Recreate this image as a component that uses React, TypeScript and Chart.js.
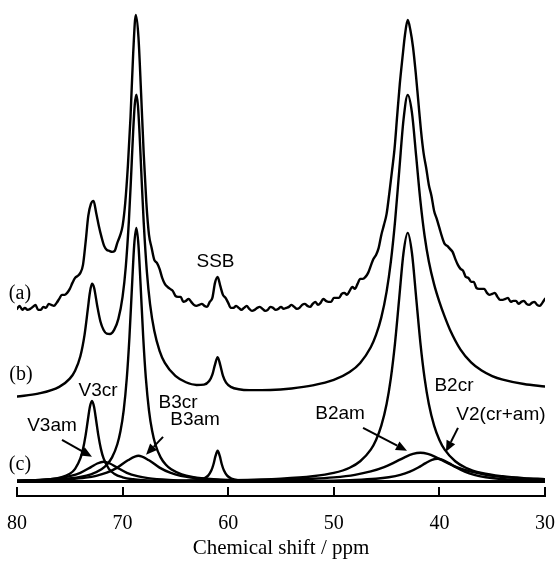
import React, { useEffect, useRef } from "react";
import { Chart, registerables } from "chart.js";

Chart.register(...registerables);

// ---------- axis ----------
const xTickValues = [80, 70, 60, 50, 40, 30];

// ---------- (a) experimental spectrum ----------
const expPpm = [
  80, 79.75, 79.5, 79.25, 79, 78.75, 78.5, 78.25, 78, 77.75,
  77.5, 77.25, 77, 76.75, 76.5, 76.25, 76, 75.75, 75.5, 75.25,
  75, 74.75, 74.5, 74.25, 74, 73.75, 73.5, 73.25, 73, 72.75,
  72.5, 72.25, 72, 71.75, 71.5, 71.25, 71, 70.75, 70.5, 70.25,
  70, 69.75, 69.5, 69.25, 69, 68.75, 68.5, 68.25, 68, 67.75,
  67.5, 67.25, 67, 66.75, 66.5, 66.25, 66, 65.75, 65.5, 65.25,
  65, 64.75, 64.5, 64.25, 64, 63.75, 63.5, 63.25, 63, 62.75,
  62.5, 62.25, 62, 61.75, 61.5, 61.25, 61, 60.75, 60.5, 60.25,
  60, 59.75, 59.5, 59.25, 59, 58.75, 58.5, 58.25, 58, 57.75,
  57.5, 57.25, 57, 56.75, 56.5, 56.25, 56, 55.75, 55.5, 55.25,
  55, 54.75, 54.5, 54.25, 54, 53.75, 53.5, 53.25, 53, 52.75,
  52.5, 52.25, 52, 51.75, 51.5, 51.25, 51, 50.75, 50.5, 50.25,
  50, 49.75, 49.5, 49.25, 49, 48.75, 48.5, 48.25, 48, 47.75,
  47.5, 47.25, 47, 46.75, 46.5, 46.25, 46, 45.75, 45.5, 45.25,
  45, 44.75, 44.5, 44.25, 44, 43.75, 43.5, 43.25, 43, 42.75,
  42.5, 42.25, 42, 41.75, 41.5, 41.25, 41, 40.75, 40.5, 40.25,
  40, 39.75, 39.5, 39.25, 39, 38.75, 38.5, 38.25, 38, 37.75,
  37.5, 37.25, 37, 36.75, 36.5, 36.25, 36, 35.75, 35.5, 35.25,
  35, 34.75, 34.5, 34.25, 34, 33.75, 33.5, 33.25, 33, 32.75,
  32.5, 32.25, 32, 31.75, 31.5, 31.25, 31, 30.75, 30.5, 30.25,
  30,
];
const expIntensity = [
  8, 11, 7, 9, 7, 8, 10, 12, 7, 7,
  10, 9, 13, 12, 11, 14, 18, 22, 22, 24,
  28, 34, 39, 41, 44, 52, 75, 101, 113, 116,
  104, 91, 80, 71, 67, 66, 65, 66, 74, 81,
  91, 114, 151, 200, 263, 302, 280, 224, 163, 114,
  82, 69, 57, 54, 48, 39, 33, 30, 28, 26,
  21, 20, 20, 15, 16, 18, 15, 12, 11, 12,
  13, 11, 10, 15, 19, 34, 40, 31, 22, 19,
  14, 9, 9, 11, 9, 7, 9, 11, 8, 6,
  7, 9, 10, 8, 6, 7, 10, 9, 7, 8,
  10, 8, 9, 10, 12, 10, 8, 9, 12, 13,
  11, 10, 13, 15, 12, 14, 18, 16, 15, 15,
  19, 19, 19, 23, 24, 22, 26, 30, 28, 33,
  38, 38, 40, 44, 51, 58, 62, 69, 82, 92,
  103, 123, 145, 168, 201, 233, 259, 283, 297, 287,
  270, 245, 216, 187, 164, 149, 132, 121, 106, 98,
  89, 80, 73, 71, 68, 65, 58, 52, 48, 46,
  40, 39, 35, 35, 29, 28, 28, 28, 24, 22,
  23, 24, 20, 17, 17, 18, 19, 15, 16, 16,
  13, 15, 16, 13, 12, 14, 15, 12, 11, 14,
  18,
];

// ---------- (b) fitted spectrum ----------
const fitPpm = [
  80, 78, 76, 75, 74.5, 74, 73.6, 73.3, 73.1, 72.9,
  72.7, 72.4, 72.1, 71.8, 71.5, 71.2, 70.8, 70.4, 70.0, 69.7,
  69.4, 69.2, 69.0, 68.85, 68.7, 68.55, 68.4, 68.2, 68.0, 67.7,
  67.4, 67.0, 66.5, 66.0, 65.0, 64.0, 63.0, 62.3, 61.8, 61.5,
  61.25, 61.0, 60.75, 60.5, 60.2, 59.7, 59.0, 58.0, 56.0, 54.0,
  52.0, 50.0, 48.5, 47.5, 46.5, 46.0, 45.5, 45.0, 44.6, 44.2,
  43.8, 43.4, 43.0, 42.6, 42.2, 41.8, 41.4, 41.0, 40.5, 40.0,
  39.5, 39.0, 38.0, 37.0, 36.0, 35.0, 34.0, 32.0, 30.0,
];
const fitIntensity = [
  1.3, 4.2, 11.0, 19.2, 27.2, 41.6, 63.3, 88.2, 105.1, 114.1,
  110.2, 91.9, 76.4, 67.9, 64.2, 63.8, 68.0, 79.0, 101.3, 130.9,
  178.1, 220.7, 266.5, 293.1, 303.3, 292.7, 265.5, 219.0, 175.4, 126.1,
  93.8, 67.1, 47.1, 35.0, 21.9, 15.6, 12.9, 13.2, 16.8, 23.2,
  33.3, 40.7, 32.8, 22.3, 15.2, 10.7, 8.6, 7.7, 7.9, 9.4,
  12.4, 17.9, 25.8, 34.9, 50.6, 62.9, 80.5, 106.3, 136.0, 176.6,
  227.6, 278.1, 303.0, 285.4, 241.7, 197.0, 161.9, 136.4, 113.5, 96.0,
  81.2, 68.2, 48.3, 35.5, 27.3, 21.8, 18.2, 13.8, 11.4,
];

// ---------- (c) deconvoluted components ----------
const v3crPpm = [80, 77, 75, 74.5, 74, 73.75, 73.5, 73.3, 73.1, 72.9, 72.7, 72.5, 72.3, 72.05, 71.8, 71.3, 70.8, 70, 69, 68, 66, 62, 55, 45, 30];
const v3crIntensity = [0.8, 2.3, 8.1, 13.0, 23.4, 32.7, 46.7, 61.1, 74.9, 81, 74.9, 61.1, 46.7, 32.7, 23.4, 13.0, 8.1, 4.5, 2.5, 1.6, 0.8, 0.3, 0.1, 0.05, 0];

const v3amPpm = [80, 78, 76, 75, 74, 73, 72.4, 71.8, 71.2, 70.6, 69.6, 68.6, 67.6, 65.6, 63.6, 60, 55, 50, 40, 30];
const v3amIntensity = [1.1, 1.9, 3.7, 5.6, 9.0, 14.7, 18.3, 20, 18.3, 14.7, 9.0, 5.6, 3.7, 1.9, 1.1, 0.56, 0.28, 0.17, 0.08, 0.05];

const b3crPpm = [80, 76, 74, 73, 72, 71.5, 71, 70.5, 70.2, 69.9, 69.6, 69.35, 69.1, 68.9, 68.7, 68.5, 68.3, 68.05, 67.8, 67.5, 67.2, 66.9, 66.4, 65.9, 65.4, 64.4, 63.4, 61.4, 57.4, 50, 40, 30];
const b3crIntensity = [1.1, 2.7, 5.0, 7.5, 12.5, 17.0, 24.4, 37.6, 50.8, 71.3, 104.1, 145.1, 197.8, 237.1, 254, 237.1, 197.8, 145.1, 104.1, 71.3, 50.8, 37.6, 24.4, 17.0, 12.5, 7.5, 5.0, 2.7, 1.1, 0.4, 0.17, 0.1];

const b3amPpm = [80, 77, 75, 73.5, 72.5, 71.5, 70.5, 69.5, 68.5, 67.5, 66.5, 65.5, 64.5, 62, 60, 57, 50, 40, 30];
const b3amIntensity = [0.9, 1.6, 2.7, 4.2, 6.0, 9.1, 14.2, 21.5, 26, 21.5, 14.2, 9.1, 6.0, 2.7, 1.6, 0.9, 0.36, 0.15, 0.07];

const ssbPpm = [80, 66, 64, 63, 62.3, 61.9, 61.6, 61.4, 61.2, 61, 60.8, 60.6, 60.4, 60.1, 59.7, 59, 58, 56, 50, 30];
const ssbIntensity = [0.02, 0.25, 0.68, 1.5, 3.3, 6.2, 11.2, 17.3, 25.9, 31, 25.9, 17.3, 11.2, 6.2, 3.3, 1.5, 0.68, 0.25, 0.05, 0.01];

const b2crPpm = [80, 70, 60, 55, 52, 50, 48.5, 47.5, 46.5, 46, 45.5, 45, 44.6, 44.2, 43.8, 43.4, 43, 42.6, 42.2, 41.8, 41.4, 41, 40.5, 40, 39.5, 38.5, 37.5, 36, 34, 32, 30];
const b2crIntensity = [0.33, 0.62, 1.56, 3.1, 5.5, 8.9, 14.1, 20.6, 32.2, 41.9, 56.2, 77.9, 103.5, 139.1, 184.3, 228.9, 249, 228.9, 184.3, 139.1, 103.5, 77.9, 56.2, 41.9, 32.2, 20.6, 14.1, 8.9, 5.5, 3.7, 2.7];

const b2amPpm = [80, 70, 60, 55, 52, 50, 48, 46.5, 45.3, 44.3, 43.3, 42.5, 41.8, 41.1, 40.3, 39.3, 38.3, 37.1, 35.6, 33.6, 31.6, 30];
const b2amIntensity = [0.24, 0.44, 1.04, 1.9, 3.06, 4.47, 7.0, 10.4, 14.5, 19.2, 24.5, 27.9, 29, 27.9, 24.5, 19.2, 14.5, 10.4, 7.0, 4.47, 3.06, 2.34];

const v2Ppm = [80, 60, 55, 50, 48, 46, 44.8, 43.7, 42.8, 42, 41.3, 40.7, 40.2, 39.7, 39.1, 38.4, 37.6, 36.7, 35.6, 34.4, 32.4, 30];
const v2Intensity = [0.08, 0.31, 0.54, 1.2, 1.84, 3.1, 4.6, 6.9, 10.1, 14.3, 18.7, 22.0, 23, 22.0, 18.7, 14.3, 10.1, 6.9, 4.6, 3.1, 1.84, 1.11];

// vertical stacking of the three traces
const traceOffsets = { a: 165, b: 84, c: 0 };

const SERIF = '"Liberation Serif", "Times New Roman", Times, serif';
const SANS = '"Liberation Sans", Arial, Helvetica, sans-serif';

// text annotations (positions in ppm / intensity units)
const textLabels = [
  { text: "(a)", ppm: 79.72, value: 188, family: SERIF, size: 20 },
  { text: "(b)", ppm: 79.62, value: 107, family: SERIF, size: 20 },
  { text: "(c)", ppm: 79.72, value: 17, family: SERIF, size: 20 },
  { text: "SSB", ppm: 61.2, value: 220, family: SANS, size: 19 },
  { text: "V3cr", ppm: 72.33, value: 91, family: SANS, size: 19 },
  { text: "V3am", ppm: 76.69, value: 56, family: SANS, size: 19 },
  { text: "B3cr", ppm: 64.75, value: 79, family: SANS, size: 19 },
  { text: "B3am", ppm: 63.14, value: 62, family: SANS, size: 19 },
  { text: "B2am", ppm: 49.41, value: 68, family: SANS, size: 19 },
  { text: "B2cr", ppm: 38.62, value: 96, family: SANS, size: 19 },
  { text: "V2(cr+am)", ppm: 34.17, value: 67, family: SANS, size: 19 },
];

const arrows = [
  { fromPpm: 75.74, fromValue: 42, toPpm: 72.9, toValue: 25 },
  { fromPpm: 66.17, fromValue: 45, toPpm: 67.78, toValue: 27 },
  { fromPpm: 47.23, fromValue: 54, toPpm: 43.07, toValue: 31 },
  { fromPpm: 38.24, fromValue: 54, toPpm: 39.38, toValue: 30 },
];

function drawArrow(ctx: CanvasRenderingContext2D, x1: number, y1: number, x2: number, y2: number) {
  const ang = Math.atan2(y2 - y1, x2 - x1);
  const headLen = 11;
  const headW = 4.8;
  const bx = x2 - headLen * Math.cos(ang);
  const by = y2 - headLen * Math.sin(ang);
  ctx.beginPath();
  ctx.moveTo(x1, y1);
  ctx.lineTo(bx, by);
  ctx.stroke();
  ctx.beginPath();
  ctx.moveTo(x2, y2);
  ctx.lineTo(bx + headW * Math.sin(ang), by - headW * Math.cos(ang));
  ctx.lineTo(bx - headW * Math.sin(ang), by + headW * Math.cos(ang));
  ctx.closePath();
  ctx.fill();
}

const decorPlugin = {
  id: "nmrDecor",
  afterDatasetsDraw(chart: any) {
    const { ctx, chartArea } = chart;
    const xs = chart.scales.x;
    const ys = chart.scales.y;
    ctx.save();
    ctx.strokeStyle = "#000";
    ctx.fillStyle = "#000";
    // axis bracket: bottom line with ticks pointing up
    ctx.lineWidth = 2;
    const yb = Math.round(chartArea.bottom) - 1;
    const xl = xs.getPixelForValue(80);
    const xr = xs.getPixelForValue(30);
    ctx.beginPath();
    ctx.moveTo(xl - 1, yb);
    ctx.lineTo(xr + 1, yb);
    for (const t of xTickValues) {
      const px = Math.round(xs.getPixelForValue(t));
      ctx.moveTo(px, yb);
      ctx.lineTo(px, yb - 9);
    }
    ctx.stroke();

    // labels
    ctx.textAlign = "center";
    ctx.textBaseline = "middle";
    for (const l of textLabels) {
      ctx.font = `${l.size}px ${l.family}`;
      ctx.fillText(l.text, xs.getPixelForValue(l.ppm), ys.getPixelForValue(l.value));
    }

    // arrows
    ctx.lineWidth = 2;
    for (const a of arrows) {
      drawArrow(
        ctx,
        xs.getPixelForValue(a.fromPpm),
        ys.getPixelForValue(a.fromValue),
        xs.getPixelForValue(a.toPpm),
        ys.getPixelForValue(a.toValue)
      );
    }
    ctx.restore();
  },
};

function toPoints(ppm: number[], vals: number[], offset: number) {
  return ppm.map((p, i) => ({ x: p, y: vals[i] + offset }));
}

const componentSeries = [
  { label: "V3cr", ppm: v3crPpm, vals: v3crIntensity },
  { label: "V3am", ppm: v3amPpm, vals: v3amIntensity },
  { label: "B3cr", ppm: b3crPpm, vals: b3crIntensity },
  { label: "B3am", ppm: b3amPpm, vals: b3amIntensity },
  { label: "SSB", ppm: ssbPpm, vals: ssbIntensity },
  { label: "B2cr", ppm: b2crPpm, vals: b2crIntensity },
  { label: "B2am", ppm: b2amPpm, vals: b2amIntensity },
  { label: "V2(cr+am)", ppm: v2Ppm, vals: v2Intensity },
];

export default function App() {
  const ref = useRef<HTMLCanvasElement>(null);

  useEffect(() => {
    if (!ref.current) return;
    const lineStyle = {
      borderColor: "#000",
      borderWidth: 2.4,
      pointRadius: 0,
      fill: false,
      cubicInterpolationMode: "monotone" as const,
      borderJoinStyle: "round" as const,
      borderCapStyle: "round" as const,
    };
    const datasets: any[] = [
      ...componentSeries.map((c) => ({
        label: c.label,
        data: toPoints(c.ppm, c.vals, traceOffsets.c),
        ...lineStyle,
      })),
      { label: "fit (b)", data: toPoints(fitPpm, fitIntensity, traceOffsets.b), ...lineStyle },
      { label: "experimental (a)", data: toPoints(expPpm, expIntensity, traceOffsets.a), ...lineStyle },
    ];

    const chart = new Chart(ref.current, {
      type: "line",
      data: { datasets },
      options: {
        animation: false,
        responsive: false,
        devicePixelRatio: 1,
        events: [],
        layout: { padding: { top: 6, left: 17, right: 10, bottom: 0 } },
        plugins: { legend: { display: false }, tooltip: { enabled: false } },
        scales: {
          x: {
            type: "linear",
            reverse: true,
            min: 30,
            max: 80,
            ticks: {
              stepSize: 10,
              color: "#000",
              font: { family: SERIF, size: 20 },
              padding: 0,
              maxRotation: 0,
              autoSkip: false,
            },
            grid: { display: false, drawTicks: true, tickLength: 15 },
            border: { display: false },
            title: {
              display: true,
              text: "Chemical shift / ppm",
              color: "#000",
              font: { family: SERIF, size: 21 },
              padding: { top: 0, bottom: 13 },
            },
          },
          y: { type: "linear", display: false, min: -15, max: 476 },
        },
      },
      plugins: [decorPlugin],
    } as any);
    return () => chart.destroy();
  }, []);

  return (
    <div style={{ position: "absolute", left: 0, top: 0, width: 555, height: 574, background: "#fff" }}>
      <canvas ref={ref} width={555} height={574} style={{ display: "block", width: 555, height: 574 }} />
    </div>
  );
}
